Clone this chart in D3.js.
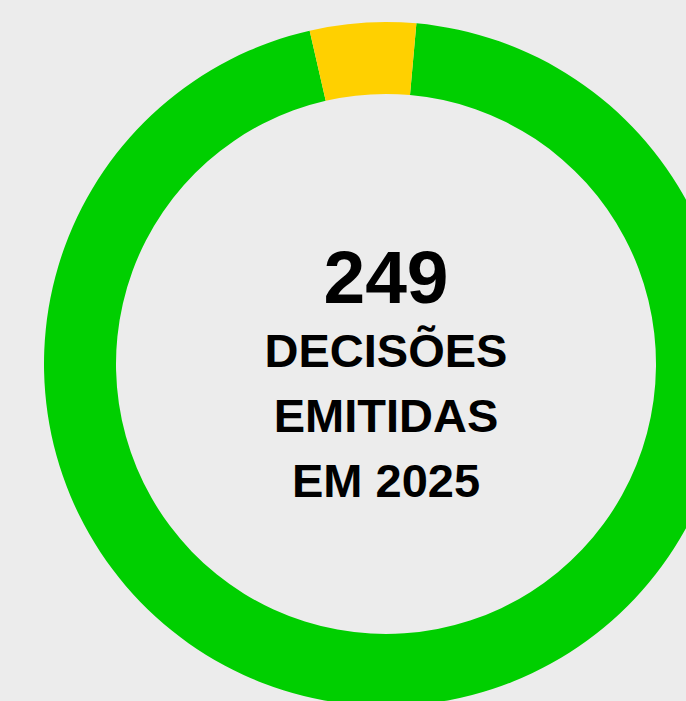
<!DOCTYPE html>
<html>
<head>
<meta charset="utf-8">
<script src="https://cdn.jsdelivr.net/npm/d3@7"></script>
<style>
    html, body { margin: 0; padding: 0; background: #ececec; overflow: hidden; }
</style>
</head>
<body>
<div id="chart"></div>
<script>
// Share of the decisions (percent), read from the ring
var categories = ["Decisões", "Outras"];
var shares = [95, 5];
var sliceColors = ["#00cf00", "#ffd000"];

// Center label
var totalDecisions = 249;
var labelLines = ["DECISÕES", "EMITIDAS", "EM 2025"];

var width = 686;
var height = 701;
var cx = 386;
var cy = 364;
var outerRadius = 342;
var innerRadius = 270;

var data = categories.map(function(c, i) {
    return { category: c, value: shares[i] };
});

//Get svg to draw graphics in
var svg = d3.select("#chart")
    .append("svg")
    .attr("width", width)
    .attr("height", height)
    .style("background", "#ececec");

var g = svg.append("g")
    .attr("transform", "translate(" + cx + "," + cy + ")");

var color = d3.scaleOrdinal()
    .domain(categories)
    .range(sliceColors);

// ring starts just right of 12 o'clock, the small slice ends there
var startAngle = 5.1 * Math.PI / 180;
var pie = d3.pie()
    .sort(null)
    .value(function(d) { return d.value; })
    .startAngle(startAngle)
    .endAngle(startAngle + 2 * Math.PI);

var arc = d3.arc()
    .innerRadius(innerRadius)
    .outerRadius(outerRadius);

g.selectAll(".slice")
    .data(pie(data))
    .enter().append("path")
    .attr("class", "slice")
    .attr("d", arc)
    .attr("fill", function(d) { return color(d.data.category); });

var fontFamily = "'Liberation Sans', Arial, Helvetica, sans-serif";

// Big number
svg.append("text")
    .attr("x", cx)
    .attr("y", 302.5)
    .attr("text-anchor", "middle")
    .style("font-family", fontFamily)
    .style("font-weight", "bold")
    .style("font-size", "75px")
    .style("fill", "#000")
    .text(totalDecisions);

// Caption lines
svg.selectAll(".caption")
    .data(labelLines)
    .enter().append("text")
    .attr("class", "caption")
    .attr("x", cx)
    .attr("y", function(d, i) { return 367.3 + i * 65; })
    .attr("text-anchor", "middle")
    .style("font-family", fontFamily)
    .style("font-weight", "bold")
    .style("font-size", "47px")
    .style("fill", "#000")
    .text(function(d) { return d; });
</script>
</body>
</html>
